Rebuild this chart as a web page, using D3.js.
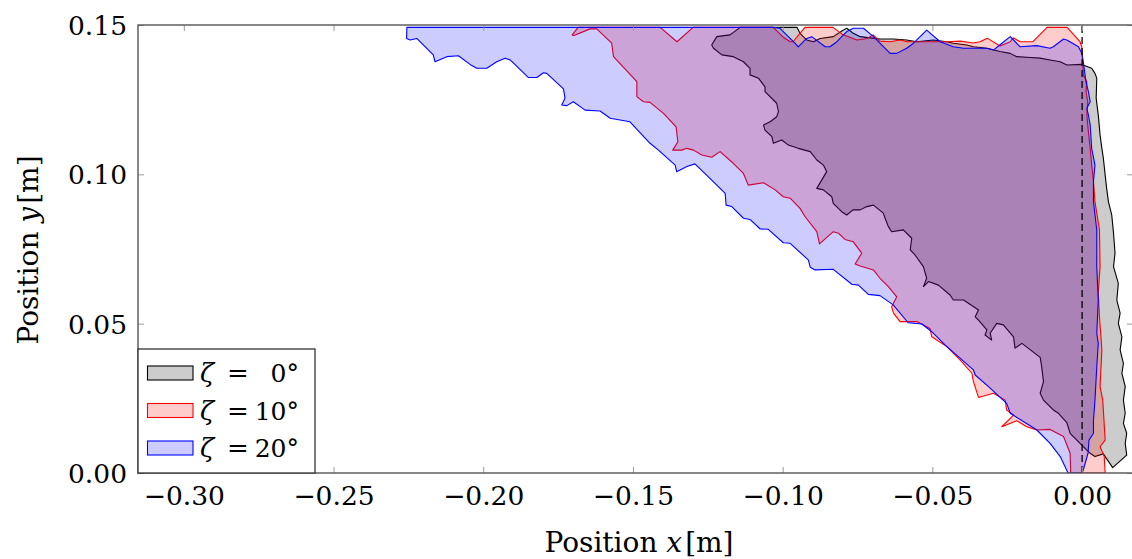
<!DOCTYPE html>
<html><head><meta charset="utf-8">
<script src="https://cdn.jsdelivr.net/npm/d3@7"></script>
<style>
html,body{margin:0;padding:0;background:#fff;}
svg{display:block;font-family:"DejaVu Serif",serif;}
</style></head>
<body><svg id="chart" width="1132" height="559"></svg>
<script>
// ---- data (metres) ----
const xTicks = [-0.30, -0.25, -0.20, -0.15, -0.10, -0.05, 0.00];
const yTicks = [0.00, 0.05, 0.10, 0.15];
const legendLabels = ["0°", "10°", "20°"];
const seriesNames = ["zeta0", "zeta10", "zeta20"];

const zeta0 = [
[-0.1142,0.1492],[-0.0952,0.1492],[-0.0942,0.1472],[-0.0920,0.1450],[-0.0897,0.1444],[-0.0875,0.1455],[-0.0831,0.1461],[-0.0797,0.1483],[-0.0786,0.1489],[-0.0764,0.1472],[-0.0741,0.1461],[-0.0708,0.1457],[-0.0675,0.1453],[-0.0630,0.1453],[-0.0586,0.1450],[-0.0552,0.1444],[-0.0497,0.1450],[-0.0452,0.1444],[-0.0430,0.1439],[-0.0385,0.1433],[-0.0363,0.1427],[-0.0318,0.1422],[-0.0274,0.1411],[-0.0240,0.1405],[-0.0218,0.1394],[-0.0174,0.1391],[-0.0140,0.1389],[-0.0107,0.1383],[-0.0073,0.1377],[-0.0051,0.1366],[-0.0001,0.1368],
[0.0032,0.1355],[0.0043,0.1338],[0.0049,0.1322],[0.0047,0.1255],[0.0054,0.1199],[0.0060,0.1132],[0.0066,0.1087],[0.0071,0.1054],[0.0077,0.0998],[0.0082,0.0953],[0.0088,0.0908],[0.0099,0.0864],[0.0105,0.0803],[0.0110,0.0736],[0.0105,0.0691],[0.0121,0.0635],[0.0116,0.0579],[0.0127,0.0535],[0.0121,0.0501],[0.0133,0.0456],[0.0127,0.0412],[0.0138,0.0367],[0.0133,0.0334],[0.0144,0.0289],[0.0138,0.0244],[0.0144,0.0200],[0.0138,0.0166],[0.0149,0.0133],[0.0144,0.0099],[0.0149,0.0060],
[0.0102,0.0018],[0.0071,0.0064],[0.0043,0.0055],[0.0027,0.0066],[0.0004,0.0088],[-0.0040,0.0133],[-0.0051,0.0169],[-0.0079,0.0200],[-0.0096,0.0211],[-0.0129,0.0244],[-0.0140,0.0267],[-0.0129,0.0306],[-0.0135,0.0356],[-0.0140,0.0387],[-0.0201,0.0434],[-0.0224,0.0418],[-0.0229,0.0456],[-0.0263,0.0496],[-0.0285,0.0501],[-0.0307,0.0468],[-0.0302,0.0445],[-0.0324,0.0462],[-0.0318,0.0479],[-0.0346,0.0512],[-0.0357,0.0523],[-0.0346,0.0546],[-0.0396,0.0579],[-0.0430,0.0579],[-0.0441,0.0596],[-0.0480,0.0629],[-0.0513,0.0641],[-0.0530,0.0624],[-0.0519,0.0652],[-0.0530,0.0691],[-0.0558,0.0730],[-0.0574,0.0747],[-0.0569,0.0786],[-0.0597,0.0814],[-0.0636,0.0808],[-0.0647,0.0825],[-0.0658,0.0853],[-0.0664,0.0870],[-0.0697,0.0897],[-0.0719,0.0892],[-0.0741,0.0881],[-0.0765,0.0881],[-0.0786,0.0864],[-0.0803,0.0875],[-0.0831,0.0903],[-0.0836,0.0925],[-0.0864,0.0948],[-0.0886,0.0953],[-0.0853,0.1009],[-0.0864,0.1031],[-0.0886,0.1048],[-0.0908,0.1076],[-0.0948,0.1087],[-0.0981,0.1098],[-0.1003,0.1115],[-0.1031,0.1104],[-0.1036,0.1126],[-0.1059,0.1148],[-0.1064,0.1165],[-0.1042,0.1176],[-0.1020,0.1193],[-0.1014,0.1210],[-0.1020,0.1238],[-0.1059,0.1277],[-0.1059,0.1293],[-0.1081,0.1322],[-0.1109,0.1333],[-0.1109,0.1355],[-0.1131,0.1377],[-0.1165,0.1394],[-0.1203,0.1400],[-0.1231,0.1422],[-0.1237,0.1433],[-0.1220,0.1461],[-0.1176,0.1467]
];

const zeta10 = [
[-0.1703,0.1467],[-0.1683,0.1492],[-0.1409,0.1492],[-0.1353,0.1444],[-0.1299,0.1492],[-0.1032,0.1492],[-0.0999,0.1460],[-0.0975,0.1444],[-0.0965,0.1444],[-0.0942,0.1473],[-0.0925,0.1492],[-0.0832,0.1492],[-0.0798,0.1467],[-0.0752,0.1450],[-0.0718,0.1455],[-0.0698,0.1467],[-0.0675,0.1446],[-0.0641,0.1444],[-0.0608,0.1450],[-0.0585,0.1444],[-0.0498,0.1444],[-0.0451,0.1444],[-0.0407,0.1446],[-0.0364,0.1440],[-0.0341,0.1444],[-0.0317,0.1456],[-0.0274,0.1430],[-0.0240,0.1444],[-0.0230,0.1457],[-0.0207,0.1444],[-0.0164,0.1444],[-0.0117,0.1492],[-0.0050,0.1492],[-0.0007,0.1444],[-0.0001,0.1427],
[0.0002,0.1377],[0.0004,0.1333],[0.0016,0.1310],[0.0013,0.1277],[0.0019,0.1243],[0.0016,0.1199],[0.0021,0.1143],[0.0027,0.1087],[0.0032,0.1031],[0.0038,0.0975],[0.0043,0.0908],[0.0050,0.0864],[0.0058,0.0814],[0.0060,0.0691],[0.0054,0.0603],[0.0058,0.0523],[0.0066,0.0412],[0.0060,0.0289],[0.0069,0.0244],[0.0073,0.0177],[0.0077,0.0110],[0.0060,0.0088],[0.0074,0.0055],[0.0077,0.0000],
[-0.0038,0.0000],[-0.0040,0.0066],[-0.0062,0.0122],[-0.0107,0.0146],[-0.0151,0.0144],[-0.0185,0.0155],[-0.0218,0.0175],[-0.0268,0.0155],[-0.0229,0.0194],[-0.0252,0.0211],[-0.0257,0.0244],[-0.0296,0.0267],[-0.0346,0.0253],[-0.0363,0.0306],[-0.0368,0.0334],[-0.0407,0.0378],[-0.0452,0.0423],[-0.0502,0.0456],[-0.0508,0.0484],[-0.0552,0.0507],[-0.0608,0.0507],[-0.0630,0.0535],[-0.0636,0.0557],[-0.0619,0.0590],[-0.0647,0.0624],[-0.0675,0.0652],[-0.0697,0.0680],[-0.0741,0.0693],[-0.0758,0.0700],[-0.0736,0.0736],[-0.0764,0.0774],[-0.0792,0.0782],[-0.0814,0.0803],[-0.0831,0.0808],[-0.0877,0.0767],[-0.0886,0.0808],[-0.0925,0.0858],[-0.0942,0.0886],[-0.0975,0.0920],[-0.0998,0.0925],[-0.1025,0.0948],[-0.1064,0.0972],[-0.1115,0.0964],[-0.1131,0.1003],[-0.1165,0.1037],[-0.1209,0.1076],[-0.1237,0.1057],[-0.1270,0.1065],[-0.1298,0.1081],[-0.1320,0.1087],[-0.1337,0.1081],[-0.1367,0.1081],[-0.1350,0.1109],[-0.1356,0.1159],[-0.1398,0.1204],[-0.1443,0.1241],[-0.1465,0.1243],[-0.1487,0.1260],[-0.1487,0.1310],[-0.1565,0.1394],[-0.1571,0.1439],[-0.1621,0.1487],[-0.1643,0.1487],[-0.1697,0.1465]
];

const zeta20 = [
[-0.2255,0.1492],[-0.1032,0.1492],[-0.1009,0.1489],[-0.0959,0.1439],[-0.0948,0.1427],[-0.0920,0.1455],[-0.0903,0.1461],[-0.0858,0.1427],[-0.0842,0.1427],[-0.0819,0.1444],[-0.0786,0.1478],[-0.0764,0.1489],[-0.0730,0.1489],[-0.0697,0.1461],[-0.0641,0.1405],[-0.0619,0.1405],[-0.0586,0.1422],[-0.0563,0.1439],[-0.0519,0.1483],[-0.0474,0.1444],[-0.0430,0.1427],[-0.0396,0.1422],[-0.0318,0.1422],[-0.0296,0.1416],[-0.0268,0.1439],[-0.0240,0.1461],[-0.0207,0.1427],[-0.0151,0.1431],[-0.0107,0.1422],[-0.0096,0.1427],[-0.0062,0.1453],[-0.0051,0.1450],[-0.0012,0.1427],[-0.0001,0.1405],
[0.0004,0.1377],[0.0007,0.1355],[0.0013,0.1310],[0.0021,0.1277],[0.0027,0.1243],[0.0016,0.1221],[0.0021,0.1199],[0.0027,0.1165],[0.0032,0.1087],[0.0043,0.1031],[0.0038,0.0975],[0.0038,0.0908],[0.0049,0.0814],[0.0049,0.0691],[0.0054,0.0579],[0.0049,0.0468],[0.0054,0.0434],[0.0049,0.0356],[0.0043,0.0244],[0.0038,0.0177],[0.0038,0.0133],[0.0023,0.0110],[0.0020,0.0067],[0.0004,0.0010],[0.0000,0.0000],
[-0.0047,0.0000],[-0.0062,0.0032],[-0.0073,0.0055],[-0.0107,0.0099],[-0.0151,0.0144],[-0.0240,0.0200],[-0.0252,0.0233],[-0.0307,0.0284],[-0.0357,0.0328],[-0.0363,0.0345],[-0.0458,0.0429],[-0.0502,0.0473],[-0.0535,0.0499],[-0.0581,0.0503],[-0.0631,0.0563],[-0.0675,0.0594],[-0.0714,0.0598],[-0.0747,0.0629],[-0.0769,0.0632],[-0.0831,0.0682],[-0.0892,0.0680],[-0.0908,0.0689],[-0.0914,0.0713],[-0.0975,0.0769],[-0.0998,0.0771],[-0.1048,0.0816],[-0.1075,0.0817],[-0.1109,0.0849],[-0.1131,0.0853],[-0.1170,0.0892],[-0.1189,0.0897],[-0.1192,0.0936],[-0.1231,0.0975],[-0.1293,0.1035],[-0.1320,0.1026],[-0.1354,0.1009],[-0.1359,0.1031],[-0.1415,0.1081],[-0.1443,0.1104],[-0.1510,0.1176],[-0.1543,0.1182],[-0.1576,0.1188],[-0.1610,0.1212],[-0.1660,0.1215],[-0.1699,0.1243],[-0.1721,0.1230],[-0.1738,0.1232],[-0.1727,0.1255],[-0.1732,0.1286],[-0.1788,0.1338],[-0.1799,0.1340],[-0.1821,0.1324],[-0.1849,0.1324],[-0.1910,0.1383],[-0.1927,0.1389],[-0.1955,0.1377],[-0.1988,0.1355],[-0.2022,0.1355],[-0.2044,0.1368],[-0.2083,0.1397],[-0.2122,0.1394],[-0.2161,0.1377],[-0.2167,0.1400],[-0.2222,0.1455],[-0.2244,0.1450],[-0.2256,0.1455]
];

const xDomain = [-0.3153, 0.017];
const yDomain = [0, 0.15];

// ---- layout ----
const L = 138, R = 1133, T = 25, B = 473;
const svg = d3.select("#chart");
const x = d3.scaleLinear().domain(xDomain).range([L, R]);
const y = d3.scaleLinear().domain(yDomain).range([B, T]);

svg.append("defs").append("clipPath").attr("id", "clip")
  .append("rect").attr("x", L).attr("y", T).attr("width", R - L).attr("height", B - T);

const styles = [
  {fill: "rgba(0,0,0,0.2)", stroke: "#000"},
  {fill: "rgba(255,0,0,0.2)", stroke: "#ff0000"},
  {fill: "rgba(0,0,255,0.2)", stroke: "#0000ff"}
];
const seriesData = [zeta0, zeta10, zeta20];

const line = d3.line().x(d => x(d[0])).y(d => y(d[1])).curve(d3.curveLinearClosed);
const plot = svg.append("g").attr("clip-path", "url(#clip)");
plot.selectAll("path.area").data(seriesData).join("path")
  .attr("class", "area")
  .attr("d", line)
  .attr("fill", (d, i) => styles[i].fill)
  .attr("stroke", (d, i) => styles[i].stroke)
  .attr("stroke-width", 1.1)
  .attr("stroke-linejoin", "round");

// dashed line at x = 0
plot.append("line")
  .attr("x1", x(0)).attr("x2", x(0)).attr("y1", y(0)).attr("y2", y(0.15))
  .attr("stroke", "#000").attr("stroke-width", 1.3).attr("stroke-dasharray", "7,4");

// ---- axes ----
const fmt = d3.format(".2f");
const tickColor = "#9a9a9a";
function styleAxis(g) {
  g.select(".domain").remove();
  g.selectAll(".tick line").attr("stroke", tickColor).attr("stroke-width", 1);
}
const gx = svg.append("g").attr("transform", `translate(0,${B})`)
  .call(d3.axisBottom(x).tickValues(xTicks).tickFormat(fmt).tickSize(-6).tickPadding(0));
styleAxis(gx);
gx.selectAll("text").attr("y", 32).attr("dy", 0).attr("font-size", 26.5)
  .attr("font-family", "DejaVu Serif").attr("fill", "#000");

const gxt = svg.append("g").attr("transform", `translate(0,${T})`)
  .call(d3.axisTop(x).tickValues(xTicks).tickFormat("").tickSize(-6));
styleAxis(gxt);

const gy = svg.append("g").attr("transform", `translate(${L},0)`)
  .call(d3.axisLeft(y).tickValues(yTicks).tickFormat(fmt).tickSize(-6).tickPadding(0));
styleAxis(gy);
gy.selectAll("text").attr("x", -11).attr("dy", "0.36em").attr("font-size", 26.5)
  .attr("font-family", "DejaVu Serif").attr("fill", "#000");

const gyr = svg.append("g").attr("transform", `translate(${R},0)`)
  .call(d3.axisRight(y).tickValues(yTicks).tickFormat("").tickSize(-6));
styleAxis(gyr);

// frame
svg.append("rect").attr("x", L).attr("y", T).attr("width", R - L).attr("height", B - T)
  .attr("fill", "none").attr("stroke", "#555").attr("stroke-width", 1.4);

// axis titles
const xt = svg.append("text").attr("x", 639).attr("y", 552).attr("text-anchor", "middle")
  .attr("font-size", 28).attr("fill", "#000");
xt.append("tspan").text("Position ");
xt.append("tspan").attr("font-style", "italic").text("x");
xt.append("tspan").attr("dx", 3).text("[m]");

const yt = svg.append("text").attr("transform", "translate(38,250) rotate(-90)")
  .attr("text-anchor", "middle").attr("font-size", 28).attr("fill", "#000");
yt.append("tspan").text("Position ");
yt.append("tspan").attr("font-style", "italic").text("y");
yt.append("tspan").attr("dx", 3).text("[m]");

// ---- legend ----
const lg = svg.append("g");
lg.append("rect").attr("x", L).attr("y", 349).attr("width", 177).attr("height", B - 349)
  .attr("fill", "#fff").attr("stroke", "#333").attr("stroke-width", 1.3);
const rowY = [373, 410.5, 448];
legendLabels.forEach((lab, i) => {
  lg.append("rect").attr("x", 147.5).attr("y", rowY[i] - 7).attr("width", 45.5).attr("height", 14)
    .attr("fill", styles[i].fill).attr("stroke", styles[i].stroke).attr("stroke-width", 1.1);
  lg.append("text").attr("x", 200).attr("y", rowY[i] + 9).attr("font-size", 26)
    .attr("font-style", "italic").attr("fill", "#000").text("ζ");
  lg.append("text").attr("x", 227).attr("y", rowY[i] + 9).attr("font-size", 26)
    .attr("fill", "#000").text("=");
  lg.append("text").attr("x", 299).attr("y", rowY[i] + 9).attr("font-size", 25)
    .attr("text-anchor", "end").attr("fill", "#000").text(lab);
});
</script></body></html>
